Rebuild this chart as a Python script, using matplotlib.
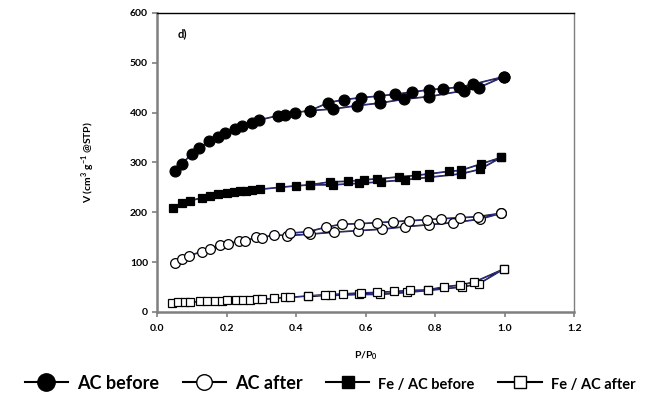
import matplotlib
matplotlib.use("Agg")
from matplotlib import pyplot as plt
from matplotlib.lines import Line2D
import numpy as np

# N2 isotherms: adsorption branch then desorption branch (from P/P0 = 1 back down)
ac_before_ads_p = [0.052, 0.071, 0.100, 0.121, 0.150, 0.174, 0.196, 0.224, 0.244, 0.272,
                   0.293, 0.349, 0.368, 0.397, 0.440, 0.505, 0.576, 0.640, 0.711, 0.781,
                   0.883, 0.925, 0.997]
ac_before_ads_v = [282, 297, 317, 328, 343, 351, 360, 368, 374, 380,
                   385, 394, 395, 400, 404, 407, 414, 419, 427, 432,
                   444, 450, 472]
ac_before_des_p = [0.997, 0.910, 0.869, 0.822, 0.783, 0.733, 0.685, 0.637, 0.587, 0.538,
                   0.493, 0.440]
ac_before_des_v = [472, 457, 451, 448, 446, 441, 437, 433, 430, 426,
                   420, 404]

ac_after_ads_p = [0.052, 0.073, 0.093, 0.129, 0.153, 0.181, 0.205, 0.236, 0.253, 0.285,
                  0.301, 0.335, 0.373, 0.440, 0.509, 0.578, 0.647, 0.714, 0.783, 0.851,
                  0.928, 0.990]
ac_after_ads_v = [98, 106, 113, 121, 126, 134, 136, 143, 142, 150,
                  148, 155, 153, 156, 160, 163, 166, 171, 175, 179,
                  186, 198]
ac_after_des_p = [0.990, 0.922, 0.872, 0.817, 0.776, 0.725, 0.680, 0.632, 0.581, 0.531,
                  0.486, 0.435, 0.383]
ac_after_des_v = [198, 191, 189, 187, 185, 183, 181, 179, 177, 176,
                  170, 161, 158]

fe_before_ads_p = [0.047, 0.071, 0.095, 0.129, 0.153, 0.175, 0.200, 0.220, 0.239, 0.256,
                   0.272, 0.296, 0.354, 0.400, 0.440, 0.505, 0.580, 0.645, 0.712, 0.781,
                   0.874, 0.928, 0.990]
fe_before_ads_v = [209, 218, 223, 229, 233, 236, 239, 241, 243, 243,
                   245, 246, 250, 253, 255, 255, 258, 261, 265, 270,
                   277, 286, 310]
fe_before_des_p = [0.990, 0.932, 0.874, 0.839, 0.783, 0.745, 0.697, 0.634, 0.594, 0.549,
                   0.498, 0.440]
fe_before_des_v = [310, 297, 284, 282, 277, 274, 271, 267, 265, 262,
                   261, 255]

fe_after_ads_p = [0.042, 0.061, 0.080, 0.095, 0.124, 0.143, 0.167, 0.186, 0.200, 0.227,
                  0.247, 0.266, 0.287, 0.301, 0.335, 0.368, 0.383, 0.433, 0.500, 0.580,
                  0.640, 0.718, 0.779, 0.877, 0.925, 0.997]
fe_after_ads_v = [17, 19, 19, 19, 21, 21, 22, 22, 23, 24,
                  24, 24, 25, 25, 27, 29, 29, 32, 33, 35,
                  35, 39, 43, 50, 56, 86]
fe_after_des_p = [0.997, 0.913, 0.872, 0.824, 0.779, 0.728, 0.682, 0.632, 0.586, 0.536,
                  0.483, 0.433]
fe_after_des_v = [86, 60, 54, 50, 44, 43, 41, 39, 38, 36,
                  34, 32]

labels = ["AC before", "AC after", "Fe / AC before", "Fe / AC after"]
label_sizes = [13, 13, 10.5, 10.5]

series = [
    (ac_before_ads_p + ac_before_des_p, ac_before_ads_v + ac_before_des_v, "o", "black", 7.8),
    (ac_after_ads_p + ac_after_des_p, ac_after_ads_v + ac_after_des_v, "o", "white", 7.0),
    (fe_before_ads_p + fe_before_des_p, fe_before_ads_v + fe_before_des_v, "s", "black", 5.2),
    (fe_after_ads_p + fe_after_des_p, fe_after_ads_v + fe_after_des_v, "s", "white", 5.2),
]

plt.rcParams["font.family"] = ["Lato", "DejaVu Sans"]
plt.rcParams["font.weight"] = "bold"

fig = plt.figure(figsize=(6.6, 4.04), dpi=100)
ax = fig.add_axes([0.238, 0.228, 0.632, 0.740])

for p, v, marker, face, ms in series:
    # dark outline with a thin blue core, like the original line style
    ax.plot(p, v, color="#101030", lw=1.2, zorder=2)
    ax.plot(p, v, color="#4040c0", lw=0.4, zorder=3)
    ax.plot(p, v, ls="none", marker=marker, ms=ms, mfc=face, mec="black",
            mew=0.9, zorder=4)

ax.set_xlim(0, 1.2)
ax.set_ylim(0, 600)
ax.set_xticks(np.arange(0, 1.21, 0.2))
ax.set_yticks(np.arange(0, 601, 100))
ax.set_xticklabels([f"{t:.1f}" for t in np.arange(0, 1.21, 0.2)])
ax.tick_params(direction="out", length=3.5, width=1.2, color="#7f7f7f",
               labelsize=7.5, pad=3)
ax.tick_params(axis="x", pad=5)
for lab in ax.get_xticklabels() + ax.get_yticklabels():
    lab.set_fontweight("bold")

ax.spines["left"].set_color("#7f7f7f")
ax.spines["left"].set_linewidth(1.8)
ax.spines["bottom"].set_color("#7f7f7f")
ax.spines["bottom"].set_linewidth(1.8)
ax.spines["top"].set_color("black")
ax.spines["top"].set_linewidth(1.0)
ax.spines["right"].set_color("#7f7f7f")
ax.spines["right"].set_linewidth(1.0)

ax.set_xlabel("P/P$_\\mathregular{0}$", fontsize=7.5, fontweight="bold", labelpad=12)
ax.set_ylabel("V (cm$^\\mathregular{3}$ g$^\\mathregular{-1}$ @STP)", fontsize=7.5,
              fontweight="bold", labelpad=24)
ax.text(0.05, 0.92, "d)", transform=ax.transAxes, fontsize=8, fontweight="bold")

handles = []
for (p, v, marker, face, ms), lab in zip(series, labels):
    handles.append(Line2D([], [], color="black", lw=1.5, marker=marker,
                          ms=ms * 1.6, mfc=face, mec="black", mew=1.0, label=lab))
leg = fig.legend(handles=handles, loc="lower center", ncol=4, frameon=False,
                 bbox_to_anchor=(0.5, -0.01), handlelength=2.4, handletextpad=0.5,
                 columnspacing=1.3, prop={"weight": "bold", "size": 13})
for txt, size in zip(leg.get_texts(), label_sizes):
    txt.set_fontsize(size)

fig.savefig("out.png", dpi=100)
